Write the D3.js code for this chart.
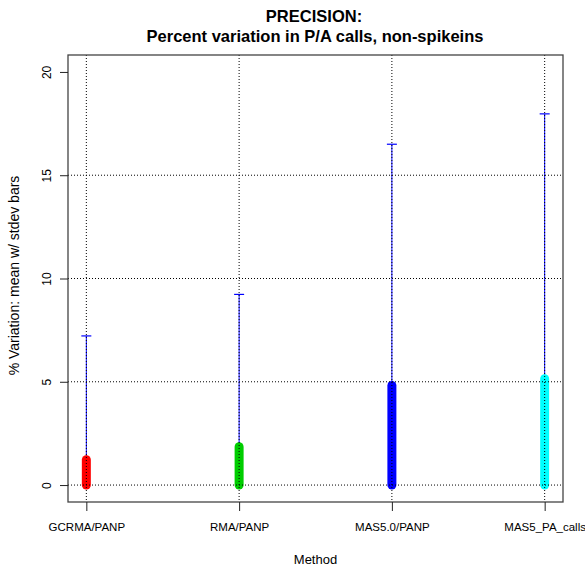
<!DOCTYPE html>
<html>
<head>
<meta charset="utf-8">
<script src="https://cdn.jsdelivr.net/npm/d3@7"></script>
<style>
  body { margin: 0; background: #fff; }
  text { font-family: "Liberation Sans", Arial, sans-serif; fill: #000; }
</style>
</head>
<body>
<div id="chart"></div>
<script>
// dati: media e deviazione standard per metodo
const methods = ['GCRMA/PANP', 'RMA/PANP', 'MAS5.0/PANP', 'MAS5_PA_calls'];
const means = [1.23, 1.86, 4.82, 5.15];
const stdevs = [5.99, 7.37, 11.68, 12.82];
const colors = ['#ff0000', '#00cd00', '#0000ff', '#00ffff'];
const yTicks = [0, 5, 10, 15, 20];
const yGrid = [0, 5, 10, 15];

const W = 585, H = 568;
const plot = { left: 68, right: 563, top: 55, bottom: 502 };

const svg = d3.select('#chart').append('svg')
    .attr('width', W)
    .attr('height', H);

// scale (R estende il range del 4%)
const x = d3.scaleLinear().domain([0.88, 4.12]).range([plot.left, plot.right]);
const y = d3.scaleLinear().domain([-0.82, 20.82]).range([plot.bottom, plot.top]);

const data = methods.map((m, i) => ({ method: m, idx: i + 1, mean: means[i], sd: stdevs[i], color: colors[i] }));

// barre di errore (blu)
const err = svg.append('g');
err.selectAll('line.err')
    .data(data)
    .join('line')
    .attr('x1', d => x(d.idx)).attr('x2', d => x(d.idx))
    .attr('y1', d => y(d.mean)).attr('y2', d => y(d.mean + d.sd))
    .attr('stroke', '#0000ff').attr('stroke-width', 1);
err.selectAll('line.cap')
    .data(data)
    .join('line')
    .attr('x1', d => x(d.idx) - 5).attr('x2', d => x(d.idx) + 5)
    .attr('y1', d => y(d.mean + d.sd)).attr('y2', d => y(d.mean + d.sd))
    .attr('stroke', '#0000ff').attr('stroke-width', 1.2);

// barre spesse dalla base alla media
svg.append('g').selectAll('line')
    .data(data)
    .join('line')
    .attr('x1', d => x(d.idx)).attr('x2', d => x(d.idx))
    .attr('y1', y(0)).attr('y2', d => y(d.mean))
    .attr('stroke', d => d.color)
    .attr('stroke-width', 9)
    .attr('stroke-linecap', 'round');

// griglia tratteggiata
const grid = svg.append('g')
    .attr('stroke', '#000')
    .attr('stroke-width', 1)
    .attr('stroke-dasharray', '1,2');
grid.selectAll('line.h')
    .data(yGrid)
    .join('line')
    .attr('x1', plot.left).attr('x2', plot.right)
    .attr('y1', d => y(d)).attr('y2', d => y(d));
grid.selectAll('line.v')
    .data(data)
    .join('line')
    .attr('x1', d => x(d.idx)).attr('x2', d => x(d.idx))
    .attr('y1', plot.top).attr('y2', plot.bottom);

// cornice
svg.append('rect')
    .attr('x', plot.left).attr('y', plot.top)
    .attr('width', plot.right - plot.left)
    .attr('height', plot.bottom - plot.top)
    .attr('fill', 'none')
    .attr('stroke', '#444')
    .attr('stroke-width', 1.3);

// asse y
const yAxis = svg.append('g')
    .attr('transform', `translate(${plot.left},0)`)
    .call(d3.axisLeft(y).tickValues(yTicks).tickSize(8).tickSizeOuter(0).tickPadding(0));
yAxis.select('.domain').remove();
yAxis.selectAll('.tick line').attr('stroke', '#222');
yAxis.selectAll('.tick text')
    .attr('x', 0).attr('dy', 0)
    .attr('transform', 'translate(-17,0) rotate(-90)')
    .attr('text-anchor', 'middle')
    .style('font-size', '12px')
    .style('font-family', '"Liberation Sans", Arial, sans-serif');

// asse x
const xAxis = svg.append('g')
    .attr('transform', `translate(0,${plot.bottom})`)
    .call(d3.axisBottom(x).tickValues(data.map(d => d.idx))
        .tickFormat((d, i) => methods[i]).tickSize(9).tickSizeOuter(0).tickPadding(12));
xAxis.select('.domain').remove();
xAxis.selectAll('.tick line').attr('stroke', '#222');
xAxis.selectAll('.tick text')
    .style('font-size', '11.5px')
    .style('font-family', '"Liberation Sans", Arial, sans-serif');

// etichette assi
svg.append('text')
    .attr('x', (plot.left + plot.right) / 2)
    .attr('y', 564)
    .attr('text-anchor', 'middle')
    .style('font-size', '13px')
    .text('Method');

svg.append('text')
    .attr('transform', `translate(19,${(plot.top + plot.bottom) / 2 - 3}) rotate(-90)`)
    .attr('text-anchor', 'middle')
    .style('font-size', '14px')
    .text('% Variation: mean w/ stdev bars');

// titolo
const title = svg.append('text')
    .attr('text-anchor', 'middle')
    .style('font-size', '16.5px')
    .style('font-weight', 'bold');
title.append('tspan').attr('x', 314).attr('y', 22).text('PRECISION:');
title.append('tspan').attr('x', 315).attr('y', 42).text('Percent variation in P/A calls, non-spikeins');
</script>
</body>
</html>
